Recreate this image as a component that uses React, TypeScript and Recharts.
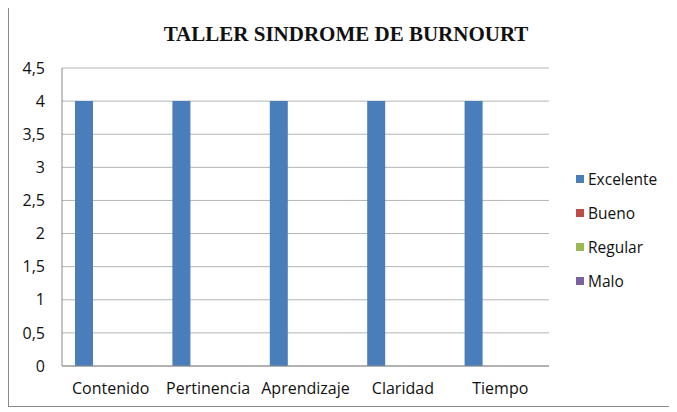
import { Bar, BarChart, CartesianGrid, XAxis, YAxis } from "recharts";

const categories = ["Contenido", "Pertinencia", "Aprendizaje", "Claridad", "Tiempo"];
const excelente = [4, 4, 4, 4, 4];
const bueno = [0, 0, 0, 0, 0];
const regular = [0, 0, 0, 0, 0];
const malo = [0, 0, 0, 0, 0];
const yTicks = [0, 0.5, 1, 1.5, 2, 2.5, 3, 3.5, 4, 4.5];

const SERIES = [
  { key: "Excelente", values: excelente, color: "#4a7ebb" },
  { key: "Bueno", values: bueno, color: "#be4b48" },
  { key: "Regular", values: regular, color: "#98b954" },
  { key: "Malo", values: malo, color: "#7d60a0" },
];

const rows = categories.map((name, i) => {
  const row: Record<string, string | number> = { name };
  SERIES.forEach((s) => (row[s.key] = s.values[i]));
  return row;
});

const FONT = "'Open Sans', 'Noto Sans', sans-serif";

export default function App() {
  return (
    <div
      style={{
        position: "relative",
        width: 662,
        height: 399,
        border: "1px solid #8a8a8a",
        marginTop: -2,
        background: "#fff",
      }}
    >
      <div
        style={{
          position: "absolute",
          left: 137,
          top: 16,
          width: 400,
          textAlign: "center",
          fontFamily: "'Liberation Serif', 'Times New Roman', serif",
          fontWeight: "bold",
          fontSize: 21,
          lineHeight: "22px",
          color: "#111",
        }}
      >
        TALLER SINDROME DE BURNOURT
      </div>
      {/* legend sits outside the plot, like the Excel original */}
      <div
        style={{
          position: "absolute",
          left: 567,
          top: 155,
          fontFamily: FONT,
          fontSize: 15.5,
          color: "#111",
        }}
      >
        {SERIES.map((s) => (
          <div key={s.key} style={{ display: "flex", alignItems: "center", height: 34 }}>
            <span style={{ width: 8, height: 8, background: s.color, marginRight: 4 }} />
            {s.key}
          </div>
        ))}
      </div>
      <BarChart
        width={662}
        height={399}
        data={rows}
        margin={{ top: 61, right: 122, left: 0, bottom: 0 }}
        barGap={0}
        barSize={18}
      >
        <CartesianGrid vertical={false} stroke="#b4b4b4" />
        <XAxis
          dataKey="name"
          height={40}
          axisLine={{ stroke: "#8a8a8a" }}
          tickLine={false}
          tickMargin={11}
          tick={{ fontFamily: FONT, fontSize: 16, fill: "#111" }}
          interval={0}
        />
        <YAxis
          width={53}
          domain={[0, 4.5]}
          ticks={yTicks}
          interval={0}
          axisLine={{ stroke: "#8a8a8a" }}
          tickLine={false}
          tickMargin={11}
          tick={{ fontFamily: FONT, fontSize: 16, fill: "#111" }}
          tickFormatter={(v: number) => String(v).replace(".", ",")}
        />
        {SERIES.map((s) => (
          <Bar key={s.key} dataKey={s.key} fill={s.color} isAnimationActive={false} />
        ))}
      </BarChart>
    </div>
  );
}
